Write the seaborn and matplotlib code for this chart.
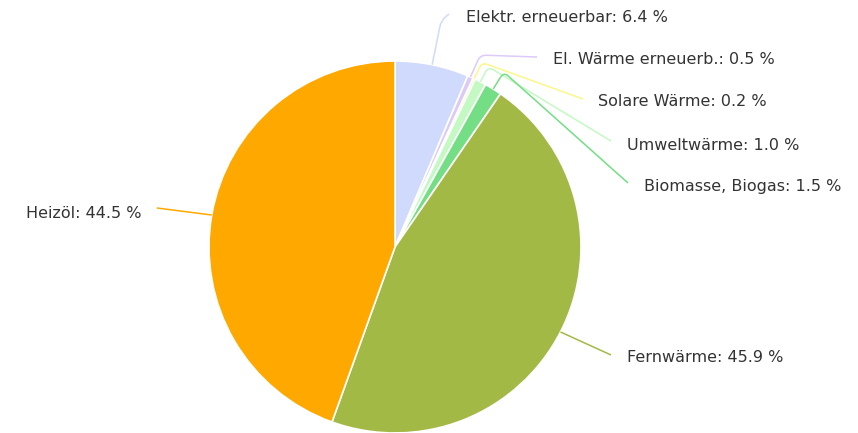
import numpy as np
import matplotlib
matplotlib.use("Agg")
import matplotlib.pyplot as plt
from matplotlib.path import Path
from matplotlib.patches import PathPatch
import seaborn as sns

# data
labels = ["Elektr. erneuerbar", "El. Wärme erneuerb.", "Solare Wärme",
          "Umweltwärme", "Biomasse, Biogas", "Fernwärme", "Heizöl"]
values = [6.4, 0.5, 0.2, 1.0, 1.5, 45.9, 44.5]

# styling / layout
colors = ["#d0dafc", "#dccbf9", "#fbf78a", "#c4f9c4", "#74de84", "#a3b946", "#ffa800"]
# label anchor in image pixels (x, y from top), text alignment, knee offset
label_pos = [(466, 18), (553, 60), (598, 102), (627, 145), (644, 186), (627, 357), (141, 213)]
label_ha = ["left", "left", "left", "left", "left", "left", "right"]
line_end = [(449, 14), (537, 57), (583, 99), (611, 141), (628, 183), (611, 355), (157, 208)]
knee = [45, 24, 18, 17, 20, 0, 0]

W, H = 858, 433
cx, cy, R = 395, H - 247, 186

sns.set_theme(style="white")
plt.rcParams['font.family'] = ['DejaVu Sans']

fig = plt.figure(figsize=(W / 100, H / 100), dpi=100)
ax = fig.add_axes([0, 0, 1, 1])
ax.axis("off")

wedges, _ = ax.pie(values, colors=colors, startangle=90, counterclock=False,
                   center=(cx, cy), radius=R,
                   wedgeprops=dict(edgecolor="white", linewidth=1.2))
ax.set_xlim(0, W)
ax.set_ylim(0, H)
ax.set_aspect("equal")

for w, lab, v, col, (tx, ty), ha, (ex, ey), k in zip(
        wedges, labels, values, colors, label_pos, label_ha, line_end, knee):
    mid = np.deg2rad((w.theta1 + w.theta2) / 2)
    d = np.array([np.cos(mid), np.sin(mid)])
    p0 = np.array([cx, cy]) + R * d
    end = np.array([ex, H - ey])
    if k > 0:
        kp = np.array([cx, cy]) + (R + k) * d
        a = kp - (kp - p0) / np.linalg.norm(kp - p0) * 6
        b = kp + (end - kp) / np.linalg.norm(end - kp) * 6
        path = Path([p0, a, kp, b, end],
                    [Path.MOVETO, Path.LINETO, Path.CURVE3, Path.CURVE3, Path.LINETO])
    else:
        path = Path([p0, end], [Path.MOVETO, Path.LINETO])
    ax.add_patch(PathPatch(path, facecolor="none", edgecolor=col, lw=1.1))
    ax.text(tx, H - ty, f"{lab}: {v:.1f} %", ha=ha, va="center",
            fontsize=11.5, color="#333333")

fig.savefig("out.png", dpi=100)
